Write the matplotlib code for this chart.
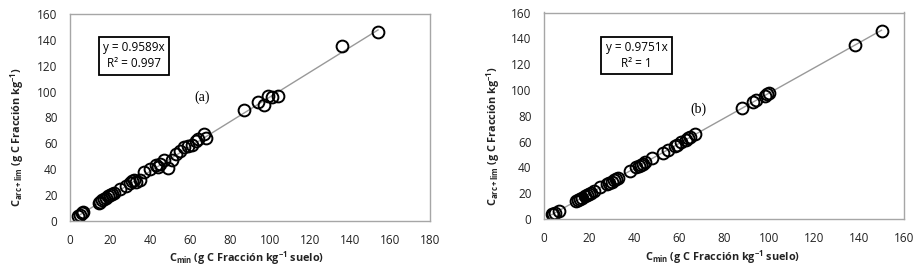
import matplotlib.pyplot as plt
import numpy as np

plt.rcParams['font.family'] = ['Open Sans', 'DejaVu Sans']
plt.rcParams['mathtext.fontset'] = 'custom'
plt.rcParams['mathtext.rm'] = 'Open Sans'
plt.rcParams['mathtext.it'] = 'Open Sans'
plt.rcParams['mathtext.bf'] = 'Open Sans:bold'

# panel (a)
xa = [4, 5, 6, 6.5, 14.5, 15, 16, 17, 18, 19, 20, 21, 22, 25, 28, 30, 31, 32, 33, 35,
      37, 40, 43, 44, 45, 47, 49, 51, 53, 55, 57, 59, 61, 63, 64, 67, 68,
      87, 94, 97, 99, 101, 104, 136, 154]
ya = [4, 5, 6, 7, 14, 15, 16, 17, 18, 19, 20, 21, 22, 25, 27, 29, 31, 32, 30, 32,
      38, 40, 43, 42, 44, 47, 41, 47, 52, 54, 57, 58, 59, 62, 63, 67, 64,
      86, 92, 90, 97, 96, 97, 135, 146]
slope_a = 0.9589

# panel (b)
xb = [3.5, 4, 5, 6.5, 14, 15, 16, 17, 18, 19, 20, 21, 22, 25, 28, 29, 30, 31, 32, 33,
      38, 41, 42, 43, 44, 45, 48, 53, 55, 58, 59, 61, 63, 64, 65, 67,
      88, 93, 94, 98, 99, 100, 138, 150]
yb = [3.5, 4, 5, 6.5, 14, 14.5, 15.5, 16.5, 17.5, 18.5, 19.5, 20.5, 21.5, 24.5, 27, 28, 29, 30, 31, 32,
      37, 40, 41, 42, 43, 44, 47, 51.5, 53.5, 56.5, 57.5, 59.5, 61.5, 62.5, 63.5, 65.5,
      86, 91, 92, 95.5, 96.5, 97.5, 135, 146]
slope_b = 0.9751

xlabel = r'$\mathbf{C_{min}}$ (g C Fracción kg$^{\mathbf{-1}}$ suelo)'
ylabel = r'$\mathbf{C_{arc+lim}}$ (g C Fracción kg$^{\mathbf{-1}}$)'

fig = plt.figure(figsize=(9.21, 2.72), dpi=100)
ax1 = fig.add_axes([70 / 921, 1 - 221 / 272, 360 / 921, 207 / 272])
ax2 = fig.add_axes([544 / 921, 1 - 219 / 272, 360 / 921, 206.5 / 272])

panels = [
    (ax1, xa, ya, slope_a, 180, 'y = 0.9589x\nR² = 0.997', '(a)', (134, 56), (202, 97),
     (247, 258), (17, 137)),
    (ax2, xb, yb, slope_b, 160, 'y = 0.9751x\nR² = 1', '(b)', (636.5, 55.5), (698, 109),
     (723, 257), (493, 136)),
]

for ax, x, y, k, xmax, eq, tag, eqpos, tagpos, xlpos, ylpos in panels:
    xx = np.array([min(x), max(x)])
    ax.plot(xx, k * xx, color='#999999', lw=1, zorder=1)
    ax.plot(x, y, 'o', mfc='none', mec='black', mew=1.4, ms=8.5, zorder=2)
    ax.set_xlim(0, xmax)
    ax.set_ylim(0, 160)
    ax.set_xticks(np.arange(0, xmax + 1, 20))
    ax.set_yticks(np.arange(0, 161, 20))
    ax.tick_params(length=0, labelsize=8.5, pad=9, colors='#222222')
    for s in ax.spines.values():
        s.set_color('#A6A6A6')
        s.set_linewidth(1)
    fig.text(xlpos[0] / 921, 1 - xlpos[1] / 272, xlabel, ha='center', va='center',
             fontsize=7.8, fontweight='bold', color='#222222')
    fig.text(ylpos[0] / 921, 1 - ylpos[1] / 272, ylabel, ha='center', va='center',
             fontsize=7.8, fontweight='bold', rotation=90, color='#222222')
    fig.text(eqpos[0] / 921, 1 - eqpos[1] / 272, eq, ha='center', va='center',
             fontsize=8.5, linespacing=1.3,
             bbox=dict(boxstyle='square,pad=0.35', fc='white', ec='black', lw=1.3))
    fig.text(tagpos[0] / 921, 1 - tagpos[1] / 272, tag, ha='center', va='center',
             fontsize=10, family='Liberation Serif')

fig.savefig('out.png', dpi=100)
